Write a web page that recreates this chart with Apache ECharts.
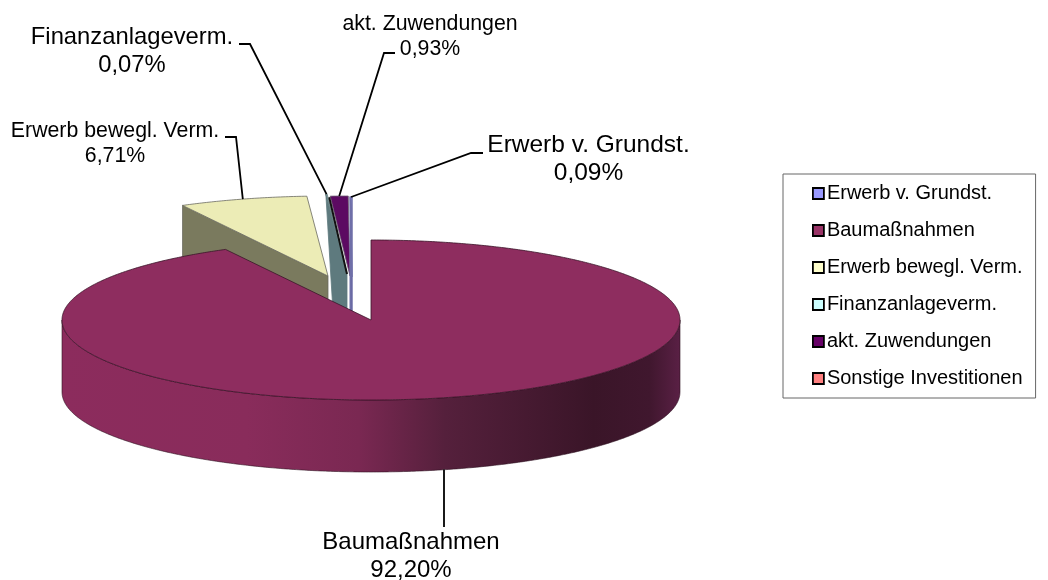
<!DOCTYPE html>
<html><head><meta charset="utf-8">
<style>html,body{margin:0;padding:0;background:#fff}#c{width:1048px;height:580px}</style>
<script src="https://cdn.jsdelivr.net/npm/echarts@6/dist/echarts.min.js"></script>
</head><body><div id="c"></div>
<script>
// ---- data ----
const categories = ['Erwerb v. Grundst.','Baumaßnahmen','Erwerb bewegl. Verm.','Finanzanlageverm.','akt. Zuwendungen','Sonstige Investitionen'];
const shares = [0.09, 92.20, 6.71, 0.07, 0.93, 0];
const legendColors = ['#9999ff','#993366','#ffffcc','#ccffff','#660066','#ff8080'];

// ---- layout / style ----
const PIE = {cx:371, cy:320, rx:309, ry:80, depth:72};
const FONT = '"Liberation Sans", Arial, sans-serif';
const startShare = -shares[0];            // first slice ends exactly at 12 o'clock
const sliceStyle = [
 {z:5, dx:-19, dy:-43, top:'#8f8fe0', wall:'#5d5d98', depth:115, lean:0,  stroke:'#6f6fa8', width:1.5},
 {z:6, dx:0,   dy:0,   top:'#8e2d5f', depth:72},
 {z:2, dx:-43, dy:-44, top:'#ececb6', wall:'#7a7a5e', depth:72, lean:0, stroke:'#6a6a60'},
 {z:4, dx:-24, dy:-46, top:'#7d9598', wall:'#5e7a7e', depth:115, lean:7, stroke:'#5e7a7e', cutLine:2},
 {z:3, dx:-21, dy:-44, top:'#5c0a62', depth:0, stroke:'#6a5a70'},
 {z:1, dx:0,   dy:0,   top:'#ff8080', depth:0}
];
const labelStyle = [
 {size:24.5, x:588.5, y1:145, y2:173, leader:[[483,153],[471,153]]},
 {size:24, x:411, y1:542, y2:570, leader:[[444,527]], outerBottom:true},
 {size:21.3, x:115, y1:131, y2:156, leader:[[225,137],[236,137]]},
 {size:23.8, x:132, y1:37,  y2:65,  leader:[[239,44],[250,44]]},
 {size:21.3, x:430, y1:24,  y2:49,  leader:[[395,53],[384,53]]},
 null
];
const wallStops = [[0,'#8c2c5d'],[0.30,'#892c5b'],[0.48,'#7a2852'],[0.62,'#55203c'],[0.86,'#3a1528'],[0.95,'#40172e'],[1,'#5a2045']];

// ---- geometry derived from the values ----
function pt(s, deg){
  const a = deg*Math.PI/180;
  return [PIE.cx + s.dx + PIE.rx*Math.sin(a), PIE.cy + s.dy - PIE.ry*Math.cos(a)];
}
function arc(s, a0, a1){
  const n = Math.max(2, Math.ceil(Math.abs(a1-a0)/0.5)), out = [];
  for(let i=0;i<=n;i++) out.push(pt(s, a0+(a1-a0)*i/n));
  return out;
}
const toDeg = v => v*3.6;
const spans = [];
shares.reduce((acc,v)=>{spans.push([toDeg(acc),toDeg(acc+v)]);return acc+v;}, startShare);
const pct = v => v.toFixed(2).replace('.',',')+'%';

function renderSlice(i){
  const s = sliceStyle[i], [a0,a1] = spans[i], kids = [];
  if(shares[i] <= 0) return {type:'group', children:[]};
  const apex = [PIE.cx+s.dx, PIE.cy+s.dy];
  if(i === 1){
    // front wall of the large slice, the half of the rim that faces the viewer
    const front = arc(s, 90, 270);
    const back = front.map(p=>[p[0],p[1]+PIE.depth]).reverse();
    kids.push({type:'polygon', shape:{points:front.concat(back)},
      style:{stroke:'#2e1020', lineWidth:0.6,
        fill:new echarts.graphic.LinearGradient(0,0,1,0, wallStops.map(w=>({offset:w[0],color:w[1]})))}});
  } else if(s.depth){
    // visible cut face of the pulled-out slices
    const r = pt(s, a0);
    kids.push({type:'polygon', shape:{points:[r, apex, [apex[0],apex[1]+s.depth], [r[0]+s.lean,r[1]+s.depth]]},
      style:{fill:s.wall, stroke:s.stroke, lineWidth:s.width||0.8}});
  }
  kids.push({type:'polygon', shape:{points:[apex].concat(arc(s,a0,a1))},
    style:{fill:s.top, stroke:i===1?'#3a1428':(s.stroke||s.top), lineWidth:s.width||0.8}});
  if(s.cutLine){
    const r = pt(s, a1);
    kids.push({type:'polyline', shape:{points:[[r[0]+2,r[1]+3], apex]}, style:{stroke:'#111', lineWidth:s.cutLine, fill:null}});
  }
  const l = labelStyle[i];
  if(l){
    const mid = (a0+a1)/2, e = pt(s, mid);
    if(l.outerBottom){ e[1] += PIE.depth; e[0] = l.leader[0][0]; }
    kids.push({type:'polyline', shape:{points:l.leader.concat([e])}, style:{stroke:'#000', lineWidth:1.8, fill:null}});
    [[categories[i],l.y1],[pct(shares[i]),l.y2]].forEach(t=>{
      kids.push({type:'text', style:{text:t[0], x:l.x, y:t[1], align:'center', verticalAlign:'middle',
        font:l.size+'px '+FONT, fill:'#000'}});
    });
  }
  return {type:'group', children:kids};
}

const chart = echarts.init(document.getElementById('c'), null, {renderer:'canvas'});
chart.setOption({
  animation:false,
  backgroundColor:'#fff',
  legend:{
    orient:'vertical', left:783, top:174,
    backgroundColor:'#fff', borderColor:'#666', borderWidth:1,
    padding:[9.5,13,9.5,29],
    itemWidth:11, itemHeight:11, itemGap:17,
    selectedMode:false, icon:'rect',
    itemStyle:{borderColor:'#000', borderWidth:1.8},
    textStyle:{fontFamily:FONT, fontSize:20, color:'#000', padding:[0,0,0,-2], lineHeight:19},
    data:categories
  },
  series:categories.map((name,i)=>({
    type:'custom', name, coordinateSystem:'none', silent:true, z:sliceStyle[i].z,
    itemStyle:{color:legendColors[i]},
    data:[[shares[i]]],
    renderItem:()=>renderSlice(i)
  }))
});
</script></body></html>
